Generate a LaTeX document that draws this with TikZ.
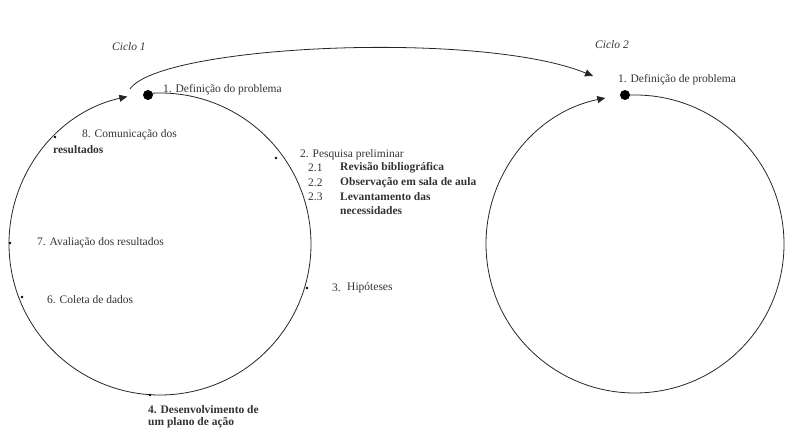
\documentclass[tikz,border=0pt]{standalone}
\usepackage{fontspec}
\setmainfont{Liberation Serif}
\usetikzlibrary{arrows.meta}
\begin{document}
\begin{tikzpicture}[x=1pt,y=-1pt,
  lbl/.style={anchor=west,inner sep=0pt,text=black!80,font=\fontsize{11.5}{13.5}\selectfont},
  blbl/.style={lbl,font=\fontsize{11.5}{13.5}\selectfont\bfseries},
  cyc/.style={line width=0.8pt,black!85},
  tip/.style={-{Triangle[length=8pt,width=7pt]}},
  dotm/.style={fill=black}]
\useasboundingbox (0,0) rectangle (785,431);
% Cycle 1
\coordinate (c1) at (160,244);
\draw[cyc,tip] (c1) ++(265.4:151) arc[start angle=265.4,end angle=617.5,radius=151];
\fill[dotm] (148,95) circle (5);
\foreach \p in {(276,158),(307,288),(150,395),(22,297),(10,243),(55,137)}
  \fill \p circle (1.4);
% Cycle 2
\coordinate (c2) at (635,244);
\draw[cyc,tip] (c2) ++(266.2:149) arc[start angle=266.2,end angle=618.5,radius=149];
\fill[dotm] (625,95) circle (5);
% connector between cycles
\coordinate (s1) at (130,89);
\coordinate (e2) at (593,76);
\draw[cyc,tip] (s1) .. controls (160,45) and (480,30) .. (e2);
% labels
\node[lbl,font=\fontsize{11.5}{13.5}\selectfont\itshape] (t1) at (112,47) {Ciclo 1};
\node[lbl,font=\fontsize{11.5}{13.5}\selectfont\itshape] (t2) at (595,45) {Ciclo 2};
\node[lbl] (d1) at (163,90) {1. Definição do problema};
\node[lbl] (d2) at (618,80) {1. Definição de problema};
\node[lbl] (p2) at (300,155) {2. Pesquisa preliminar};
\node[lbl] (n21) at (308,168) {2.1};
\node[blbl] (s21) at (340,168) {Revisão bibliográfica};
\node[lbl] (n22) at (308,183) {2.2};
\node[blbl] (s22) at (340,183) {Observação em sala de aula};
\node[lbl] (n23) at (308,197) {2.3};
\node[blbl] (s23) at (340,197) {Levantamento das};
\node[blbl] (s23b) at (340,211) {necessidades};
\node[lbl] (h3n) at (332,288) {3.};
\node[lbl] (h3) at (347,288) {Hipóteses};
\node[blbl] (a4) at (148,410) {4. Desenvolvimento de};
\node[blbl] (a4b) at (148,423) {um plano de ação};
\node[lbl] (c6) at (47,300) {6. Coleta de dados};
\node[lbl] (a7) at (37,243) {7. Avaliação dos resultados};
\node[lbl] (c8) at (82,135) {8. Comunicação dos};
\node[blbl] (c8b) at (53,150) {resultados};
\end{tikzpicture}
\end{document}
